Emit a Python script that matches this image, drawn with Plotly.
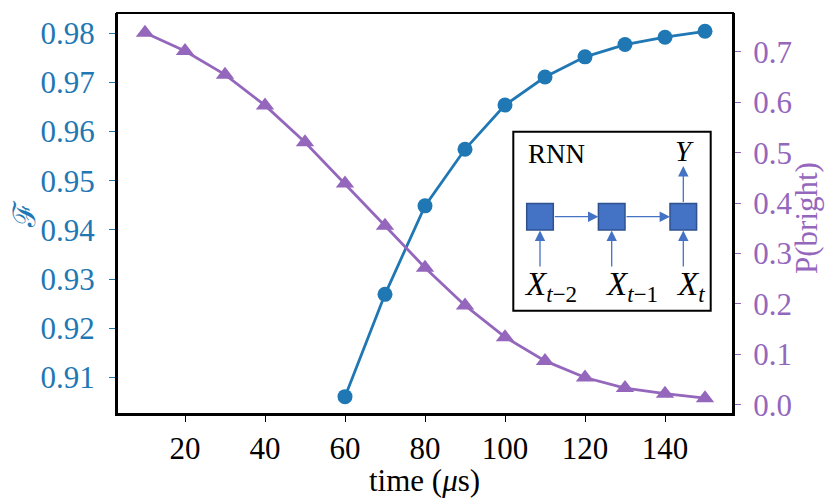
import plotly.graph_objects as go

# fidelity (left axis), measured from 60 us on
time_fid = [60, 70, 80, 90, 100, 110, 120, 130, 140, 150]
fidelity = [0.9061, 0.9269, 0.9449, 0.9564, 0.9654, 0.9711, 0.9752, 0.9777, 0.9792, 0.9804]

# probability of bright state (right axis)
time_pb = [10, 20, 30, 40, 50, 60, 70, 80, 90, 100, 110, 120, 130, 140, 150]
p_bright = [0.738, 0.702, 0.655, 0.594, 0.521, 0.439, 0.355, 0.272, 0.197, 0.134,
            0.087, 0.054, 0.033, 0.022, 0.013]

x_ticks = [20, 40, 60, 80, 100, 120, 140]
fid_ticks = [0.91, 0.92, 0.93, 0.94, 0.95, 0.96, 0.97, 0.98]
pb_ticks = [0.0, 0.1, 0.2, 0.3, 0.4, 0.5, 0.6, 0.7]

BLUE = "#1f77b4"
PURPLE = "#9467bd"
BOX = "#4472c4"
SERIF = "Liberation Serif"
FS = 31

W, H = 830, 500
L, R, T, B = 117, 733, 13, 414


def px(x):
    return (x - L) / (R - L)


def py(y):
    return (B - y) / (B - T)


def font(color="black", size=FS, family=SERIF):
    return dict(family=family, size=size, color=color)


fig = go.Figure()
fig.add_trace(go.Scatter(x=time_fid, y=fidelity, mode="lines+markers",
                         line=dict(color=BLUE, width=2.8),
                         marker=dict(symbol="circle", size=15, color=BLUE),
                         showlegend=False))
fig.add_trace(go.Scatter(x=time_pb, y=p_bright, mode="lines+markers", yaxis="y2",
                         line=dict(color=PURPLE, width=2.8),
                         marker=dict(symbol="triangle-up", size=16, color=PURPLE),
                         showlegend=False))

axis_common = dict(showgrid=False, zeroline=False, ticks="outside", ticklen=6,
                   tickwidth=1.3, showline=True, linecolor="black", linewidth=2,
                   mirror=False)

fig.update_layout(
    width=W, height=H,
    margin=dict(l=L, r=W - R, t=T, b=H - B),
    plot_bgcolor="white", paper_bgcolor="white",
    font=font(),
    xaxis=dict(range=[3, 157], tickvals=x_ticks, tickcolor="black",
               tickfont=font(), **axis_common),
    yaxis=dict(range=[0.90257, 0.98412], tickvals=fid_ticks, tickformat=".2f",
               tickcolor=BLUE, tickfont=font(BLUE), ticklabelstandoff=8,
               **axis_common),
    yaxis2=dict(range=[-0.0184, 0.7773], tickvals=pb_ticks, tickformat=".1f",
                overlaying="y", side="right",
                tickcolor=PURPLE, tickfont=font(PURPLE), ticklabelstandoff=6,
                **axis_common),
)

# axis titles placed where the reference has them
fig.add_annotation(xref="paper", yref="paper", x=px(424), y=py(480),
                   text="time (<i>μ</i>s)", showarrow=False,
                   xanchor="center", yanchor="middle", font=font())
fig.add_annotation(xref="paper", yref="paper", x=px(24), y=py(214),
                   text="ℱ", showarrow=False, textangle=-90,
                   xanchor="center", yanchor="middle",
                   font=font(BLUE, FS, "DejaVu Serif"))
fig.add_annotation(xref="paper", yref="paper", x=px(806), y=py(218),
                   text="P(bright)", showarrow=False, textangle=-90,
                   xanchor="center", yanchor="middle", font=font(PURPLE))

# frame on all four sides
fig.add_shape(type="rect", xref="paper", yref="paper", x0=0, x1=1, y0=0, y1=1,
              line=dict(color="black", width=2), layer="above")

# RNN inset
fig.add_shape(type="rect", xref="paper", yref="paper",
              x0=px(513.3), x1=px(710.7), y0=py(310.7), y1=py(131.7),
              line=dict(color="black", width=2), fillcolor="white", layer="above")

cell_x = [540, 611.7, 683.3]
cell_y = 216.7
half = 13.3
for cx in cell_x:
    fig.add_shape(type="rect", xref="paper", yref="paper",
                  x0=px(cx - half), x1=px(cx + half),
                  y0=py(cell_y + half), y1=py(cell_y - half),
                  line=dict(color="#2f528f", width=1.5), fillcolor=BOX, layer="above")


def arrow(x0, y0, x1, y1):
    fig.add_annotation(xref="paper", yref="paper", x=px(x1), y=py(y1),
                       axref="pixel", ayref="pixel", ax=x0 - x1, ay=y0 - y1,
                       showarrow=True, arrowhead=2, arrowsize=1.6, arrowwidth=1.3,
                       arrowcolor=BOX, text="")


arrow(cell_x[0] + half, cell_y, cell_x[1] - half, cell_y)
arrow(cell_x[1] + half, cell_y, cell_x[2] - half, cell_y)
for cx in cell_x:
    arrow(cx, 268, cx, cell_y + half + 0.5)
arrow(cell_x[2], cell_y - half, cell_x[2], 166)


def label(x, y, text, size):
    fig.add_annotation(xref="paper", yref="paper", x=px(x), y=py(y), text=text,
                       showarrow=False, xanchor="center", yanchor="middle",
                       font=font("black", size))


label(556.7, 153.5, "RNN", 27)
label(684.3, 151, "<i>Y</i>", 29)
label(550, 286, "<i>X</i><sub><i>t</i>−2</sub>", 33)
label(631.7, 286, "<i>X</i><sub><i>t</i>−1</sub>", 33)
label(690, 286, "<i>X</i><sub><i>t</i></sub>", 33)

# the page's default body margin would push the figure 8px off the window
fig.write_html("out.html", config={"displayModeBar": False},
               post_script="document.body.style.margin='0';")
